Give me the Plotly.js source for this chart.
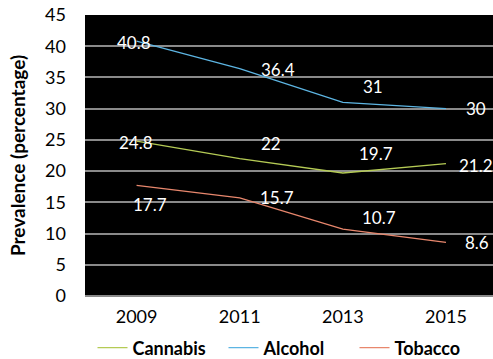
<!DOCTYPE html>
<html>
<head>
<meta charset="utf-8">
<script src="https://cdn.plot.ly/plotly-3.0.1.min.js"></script>
<style>html,body{margin:0;padding:0;overflow:hidden;background:#fff}</style>
</head>
<body>
<div id="chart" style="width:493px;height:359px"></div>
<script>
const years = ["2009", "2011", "2013", "2015"];
const cannabis = [24.8, 22, 19.7, 21.2];
const alcohol = [40.8, 36.4, 31, 30];
const tobacco = [17.7, 15.7, 10.7, 8.6];
const yTicks = [0, 5, 10, 15, 20, 25, 30, 35, 40, 45];

// label offsets (pixels) for data labels, per series
const cannabisOff = [[-1, 1], [31, -15], [33, -19], [30, 2]];
const alcoholOff = [[-3, 1], [38, 1], [30, -16], [30, 0]];
const tobaccoOff = [[13, 19], [37, 0], [36, -12], [31, 0]];

const font = "Lato, 'Open Sans', sans-serif";

function trace(name, y, color) {
  return {
    x: years, y: y, name: name, type: "scatter", mode: "lines",
    line: {color: color, width: 1.3}
  };
}

const data = [
  trace("Cannabis", cannabis, "#b5cb55"),
  trace("Alcohol", alcohol, "#5db5e3"),
  trace("Tobacco", tobacco, "#e8876d")
];

const annotations = [];
function addLabels(vals, offs) {
  vals.forEach((v, i) => {
    annotations.push({
      x: i, y: v, xref: "x", yref: "y", text: String(v),
      showarrow: false, xshift: offs[i][0], yshift: -offs[i][1],
      font: {family: font, size: 17, color: "#ffffff"}
    });
  });
}
addLabels(cannabis, cannabisOff);
addLabels(alcohol, alcoholOff);
addLabels(tobacco, tobaccoOff);

const layout = {
  width: 493, height: 359,
  margin: {l: 85, r: 0, t: 15, b: 63, pad: 0, autoexpand: false},
  paper_bgcolor: "#ffffff",
  plot_bgcolor: "#000000",
  showlegend: true,
  legend: {
    orientation: "h", xref: "paper", x: 0.5, xanchor: "center",
    yref: "container", y: 0.031, yanchor: "middle",
    entrywidth: 86, entrywidthmode: "pixels",
    bgcolor: "rgba(0,0,0,0)",
    font: {family: font, size: 18, color: "#000000", weight: "bold"},
    tracegroupgap: 0
  },
  xaxis: {
    type: "category", range: [-0.5, 3.456], automargin: false,
    showgrid: false, zeroline: false, showline: false,
    ticks: "", ticklabelstandoff: 8,
    tickfont: {family: font, size: 18, color: "#000000"}
  },
  yaxis: {
    range: [0, 45], tickvals: yTicks, ticktext: yTicks.map(String), automargin: false,
    showgrid: true, gridcolor: "#8a8a8a", gridwidth: 2,
    zeroline: true, zerolinecolor: "#8a8a8a", zerolinewidth: 2,
    showline: false, ticks: "", ticklabelstandoff: 18,
    tickfont: {family: font, size: 18, color: "#000000"},
    title: {text: "Prevalence (percentage)", standoff: 14,
      font: {family: font, size: 19, color: "#000000", weight: "bold"}}
  },
  annotations: annotations
};

Plotly.newPlot("chart", data, layout, {displayModeBar: false, responsive: false});
</script>
</body>
</html>
